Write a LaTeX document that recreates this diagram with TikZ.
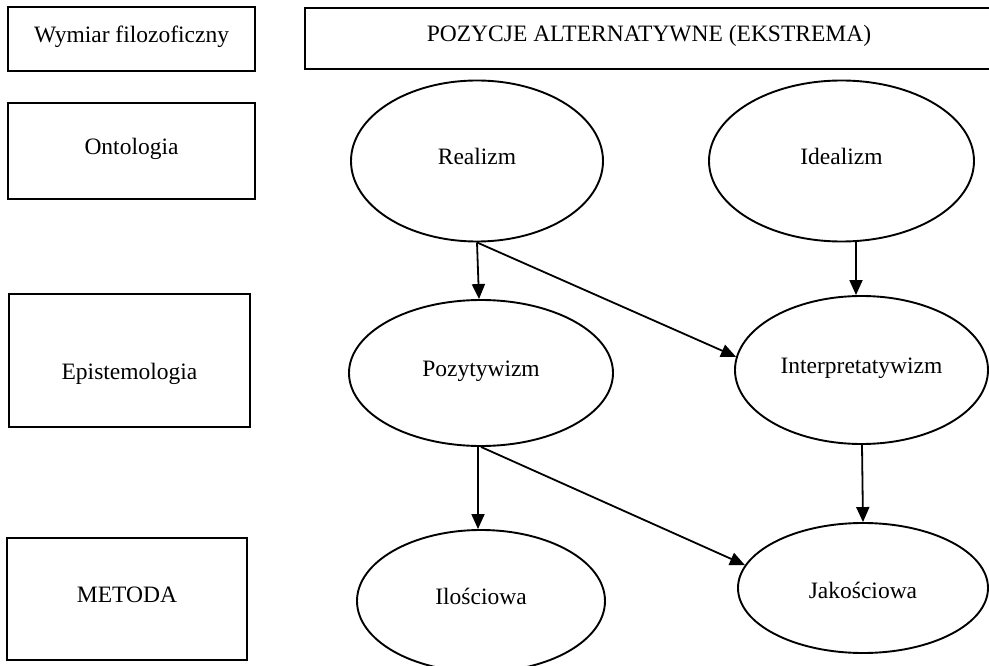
\documentclass[tikz,border=0pt]{standalone}
\usepackage{fontspec}
\setmainfont{Liberation Serif}
\usetikzlibrary{shapes.geometric,arrows.meta}
\begin{document}
\begin{tikzpicture}[x=1pt,y=-1pt,
  every node/.style={font=\fontsize{23.5}{28}\selectfont, text height=0.66em, text depth=0pt, inner sep=0pt},
  box/.style={draw, line width=2pt, rectangle},
  oval/.style={draw, line width=1.9pt, ellipse},
  arr/.style={line width=1.8pt, -{Triangle[length=15pt,width=13pt]}},
]
\useasboundingbox[fill=white] (0,0) rectangle (989,666);
% left column boxes
\node[box, minimum width=247pt, minimum height=64pt] (wym) at (131.5,39) {Wymiar filozoficzny};
\node[box, minimum width=688pt, minimum height=61pt] (poz0) at (649,38.5) {POZYCJE ALTERNATYWNE (EKSTREMA)};
\node[box, minimum width=247pt, minimum height=96pt] (ont) at (131.5,151) {Ontologia};
\node[box, minimum width=241pt, minimum height=133pt] (epi) at (129.5,360.5) {};
\node (epit) at (129.5,376) {Epistemologia};
\node[box, minimum width=240pt, minimum height=122pt] (met) at (127,599) {METODA};
% ellipses
\node[oval, minimum width=252pt, minimum height=161pt] (real) at (477,161) {Realizm};
\node[oval, minimum width=265pt, minimum height=161pt] (ideal) at (841.5,161) {Idealizm};
\node[oval, minimum width=264pt, minimum height=146pt] (poz) at (481,373) {Pozytywizm};
\node[oval, minimum width=253pt, minimum height=148pt] (interp) at (861.5,370) {Interpretatywizm};
\node[oval, minimum width=248pt, minimum height=142pt] (ilo) at (481,601) {Ilościowa};
\node[oval, minimum width=250pt, minimum height=130pt] (jak) at (863,588) {};
\node (jakt) at (863,595) {Jakościowa};
% arrows
\draw[arr] (real.south) -- ([xshift=-2pt]poz.north);
\draw[arr] (real.south) -- (interp.174);
\draw[arr] ([xshift=14.5pt]ideal.south) -- ([xshift=-5.5pt]interp.north);
\draw[arr] ([xshift=-3pt]poz.south) -- ([xshift=-3pt]ilo.north);
\draw[arr] (poz.south) -- (jak.169);
\draw[arr] ([xshift=0.5pt]interp.south) -- (jak.north);
\end{tikzpicture}
\end{document}
